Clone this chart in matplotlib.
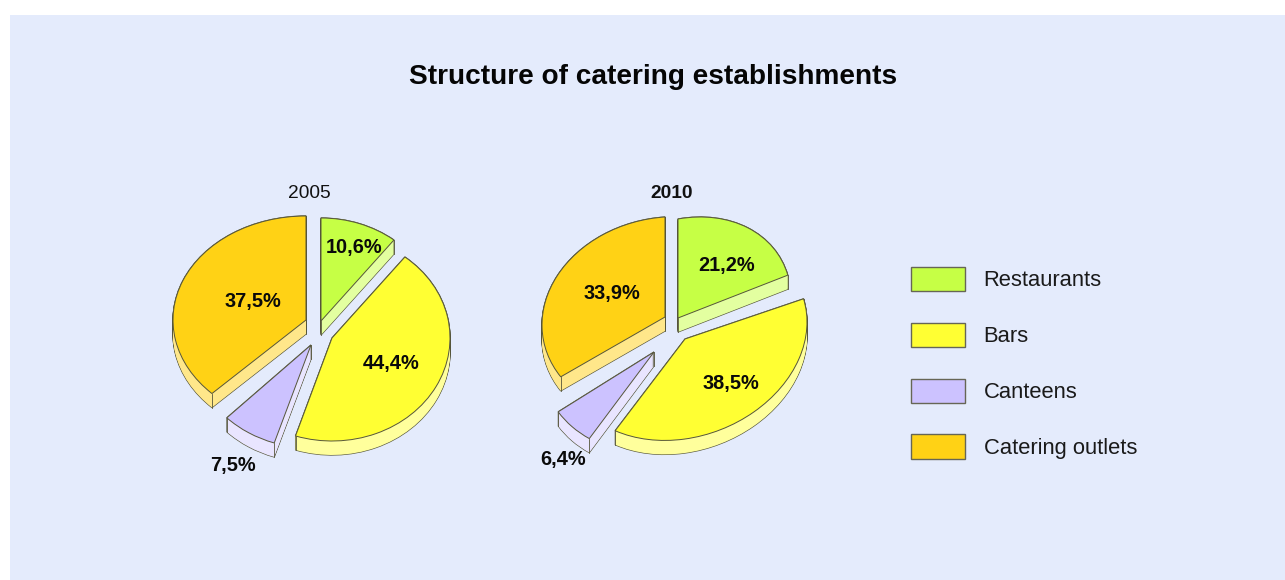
import numpy as np
import matplotlib
matplotlib.use("Agg")
import matplotlib.pyplot as plt
from matplotlib.patches import Patch, Rectangle, Wedge
from matplotlib.transforms import Affine2D

categories = ["Restaurants", "Bars", "Canteens", "Catering outlets"]
years = ["2005", "2010"]
shares_2005 = [10.6, 44.4, 7.5, 37.5]
shares_2010 = [21.2, 38.5, 6.4, 33.9]
title = "Structure of catering establishments"

top_colors = ["#C6FF45", "#FFFF33", "#CCC2FF", "#FFD215"]
side_colors = ["#E3FFA0", "#FFFF9C", "#E9E5FF", "#FFE78A"]
edge_color = "#55553a"

plt.rcParams["font.family"] = ["Liberation Sans", "DejaVu Sans"]

# layout in pixels: slice centre, x radius, y radius, shear
layout_2005 = [(321, 321, 118, 103, 0), (332, 338, 118, 103, 0),
               (311, 345, 119, 103, 0), (306, 320, 133, 104, 0)]
layout_2010 = [(678, 318, 113, 99, 20), (685, 339, 122, 100, 17),
               (654, 352, 113, 100, 8), (665, 317, 123, 100, 8)]
label_pos_2005 = [(354, 248), (391, 364), (233, 465), (253, 302)]
label_pos_2010 = [(727, 265), (731, 383), (563, 460), (612, 294)]


def place(cx, cy, rx, ry, shear):
    # unit circle -> screen pixels (y axis points down)
    return Affine2D(np.array([[rx, 0, cx], [-shear, -ry, cy], [0, 0, 1]], float))


def draw_pie(ax, shares, layout, label_pos, year, year_x, year_weight, depth):
    wedges, _ = ax.pie(shares, colors=top_colors, startangle=90, counterclock=False,
                       radius=1, wedgeprops=dict(edgecolor=edge_color, linewidth=0.7, zorder=5))
    for w, box, side in zip(wedges, layout, side_colors):
        cx, cy, rx, ry, shear = box
        tr = place(cx, cy, rx, ry, shear)
        w.set_transform(tr + ax.transData)
        w.set_clip_on(False)

        # side wall: outline first, then stacked copies of the slice
        steps = np.arange(depth, -0.5, -1)
        for lw, ec in [(0.9, edge_color), (0, side)]:
            for d in steps:
                low = Wedge((0, 0), 1, w.theta1, w.theta2, facecolor=side, edgecolor=ec,
                            linewidth=lw, zorder=3 if lw else 3.5)
                low.set_transform(place(cx, cy + d, rx, ry, shear) + ax.transData)
                ax.add_patch(low)

        # corners of the wall
        a1, a2 = np.radians([w.theta1, w.theta2])
        for ux, uy in [(np.cos(a1), np.sin(a1)), (np.cos(a2), np.sin(a2)), (0, 0)]:
            x, y = tr.transform((ux, uy))
            ax.plot([x, x], [y, y + depth], color=edge_color, lw=0.6, zorder=4)

    for v, (x, y) in zip(shares, label_pos):
        ax.text(x, y, f"{v:.1f}".replace(".", ",") + "%", ha="center", va="center",
                fontsize=14.4, fontweight="bold", color="#0a0a0a", zorder=6)
    ax.text(year_x, 194, year, ha="center", va="center", fontsize=13.8,
            fontweight=year_weight, color="#111111")


fig = plt.figure(figsize=(12.85, 5.8), dpi=100, facecolor="white")
ax = fig.add_axes([0, 0, 1, 1])
ax.add_patch(Rectangle((10, 15), 1275, 565, facecolor="#E4EBFC", edgecolor="none", zorder=0))

draw_pie(ax, shares_2005, layout_2005, label_pos_2005, years[0], 309, "normal", 14)
draw_pie(ax, shares_2010, layout_2010, label_pos_2010, years[1], 672, "bold", 14)

ax.text(653, 77, title, ha="center", va="center", fontsize=20.2, fontweight="bold", color="#050505")

handles = [Patch(facecolor=c, edgecolor="#666655", linewidth=1.0) for c in top_colors]
ax.legend(handles, categories, loc="upper left", bbox_to_anchor=(911 / 1285, 1 - 267 / 580),
          frameon=False, fontsize=15.8, handlelength=2.46, handleheight=1.315,
          labelspacing=1.43, handletextpad=0.85, borderpad=0, borderaxespad=0,
          labelcolor="#1a1a1a")

ax.set_aspect("auto")
ax.set_xlim(0, 1285)
ax.set_ylim(580, 0)
ax.axis("off")

fig.savefig("out.png", dpi=100, facecolor="white")
